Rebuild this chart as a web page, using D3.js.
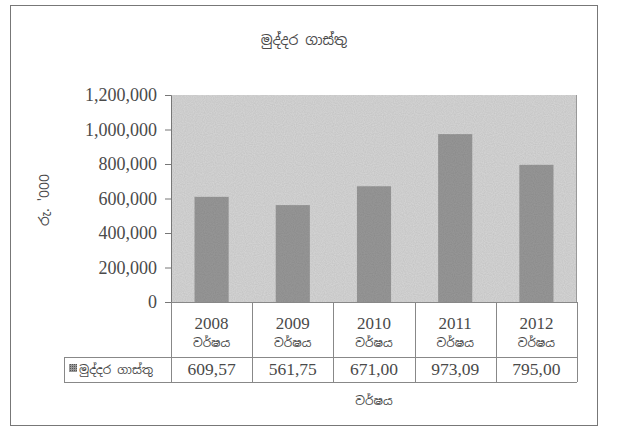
<!DOCTYPE html>
<html><head><meta charset="utf-8">
<script src="https://cdn.jsdelivr.net/npm/d3@7"></script>
<style>body{margin:0;background:#fff}svg{display:block}</style>
</head><body>
<svg id="c" width="634" height="427"></svg>
<script>
const title = "මුද්දර ගාස්තු";
const yTitle = "රු. '000";
const xTitle = "වර්ෂය";
const seriesName = "මුද්දර ගාස්තු";
const years = ["2008", "2009", "2010", "2011", "2012"];
const yearSuffix = "වර්ෂය";
const values = [609570, 561750, 671000, 973090, 795000];
const valueLabels = ["609,57", "561,75", "671,00", "973,09", "795,00"];
const yTicks = [0, 200000, 400000, 600000, 800000, 1000000, 1200000];

const svg = d3.select("#c");
const serif = "'Liberation Serif','DejaVu Serif',serif";
const sinh = "'Noto Sans Sinhala','Iskoola Pota','Noto Sans','DejaVu Sans',sans-serif";
const txt = "#4a4a4a";

// outer frame
svg.append("rect").attr("x",10.5).attr("y",5.5).attr("width",587).attr("height",420)
  .attr("fill","#fff").attr("stroke","#777").attr("stroke-width",1);

const L = 171, R = 577, T = 95, B = 302;
const x = d3.scaleBand().domain(years).range([L,R]).paddingInner(0.58).paddingOuter(0.29);
const xc = d3.scaleBand().domain(years).range([L,R]).padding(0);
const y = d3.scaleLinear().domain([0,1200000]).range([B,T]);

// texture filter
const defs = svg.append("defs");
const f = defs.append("filter").attr("id","noise").attr("x",0).attr("y",0).attr("width",1).attr("height",1);
f.append("feTurbulence").attr("type","fractalNoise").attr("baseFrequency",0.9).attr("numOctaves",1).attr("seed",3).attr("result","n");
f.append("feColorMatrix").attr("in","n").attr("type","matrix")
  .attr("values","0 0 0 0 0  0 0 0 0 0  0 0 0 0 0  0 0 0 0.22 0").attr("result","a");
f.append("feComposite").attr("in","a").attr("in2","SourceGraphic").attr("operator","in").attr("result","b");
f.append("feMerge").call(m=>{m.append("feMergeNode").attr("in","SourceGraphic");m.append("feMergeNode").attr("in","b");});

const pat = defs.append("pattern").attr("id","grid").attr("width",2).attr("height",2).attr("patternUnits","userSpaceOnUse");
pat.append("rect").attr("width",2).attr("height",2).attr("fill","#999");
pat.append("rect").attr("width",1).attr("height",1).attr("fill","#555");

// plot background
svg.append("rect").attr("x",L).attr("y",T).attr("width",R-L).attr("height",B-T)
  .attr("fill","#d8d8d8").attr("filter","url(#noise)");
svg.append("line").attr("x1",R-0.5).attr("x2",R-0.5).attr("y1",T).attr("y2",B).attr("stroke","#999");

// bars
svg.append("g").selectAll("rect").data(values).join("rect")
  .attr("x",(d,i)=>x(years[i])).attr("width",x.bandwidth())
  .attr("y",d=>y(d)).attr("height",d=>B-y(d))
  .attr("fill","#9a9a9a").attr("filter","url(#noise)");

// y axis
const ya = svg.append("g").attr("transform",`translate(${L},0)`)
  .call(d3.axisLeft(y).tickValues(yTicks).tickFormat(d3.format(",")).tickSize(6).tickPadding(8));
ya.select(".domain").attr("stroke","#777");
ya.selectAll(".tick line").attr("stroke","#777");
ya.selectAll("text").attr("font-family",serif).attr("font-size",18).attr("fill",txt);

// table
const tg = svg.append("g").attr("stroke","#888").attr("fill","none");
const rowMid = 357, rowBot = 382, legL = 64;
tg.append("line").attr("x1",L).attr("x2",R).attr("y1",B+0.5).attr("y2",B+0.5);
tg.append("line").attr("x1",legL).attr("x2",R).attr("y1",rowMid+0.5).attr("y2",rowMid+0.5);
tg.append("line").attr("x1",legL).attr("x2",R).attr("y1",rowBot+0.5).attr("y2",rowBot+0.5);
tg.append("line").attr("x1",legL+0.5).attr("x2",legL+0.5).attr("y1",rowMid).attr("y2",rowBot);
tg.selectAll("line.v").data(years.concat(["end"])).join("line").attr("class","v")
  .attr("x1",(d,i)=>Math.round(i<years.length?xc(d):R)+0.5)
  .attr("x2",(d,i)=>Math.round(i<years.length?xc(d):R)+0.5)
  .attr("y1",B).attr("y2",rowBot);

const cg = svg.append("g").attr("text-anchor","middle").attr("fill",txt);
cg.selectAll("text.yr").data(years).join("text").attr("class","yr")
  .attr("x",d=>xc(d)+xc.bandwidth()/2).attr("y",329)
  .attr("font-family",serif).attr("font-size",17).text(d=>d);
cg.selectAll("text.sf").data(years).join("text").attr("class","sf")
  .attr("x",d=>xc(d)+xc.bandwidth()/2).attr("y",347)
  .attr("font-family",sinh).attr("font-size",12).text(yearSuffix);
cg.selectAll("text.v").data(valueLabels).join("text").attr("class","v")
  .attr("x",(d,i)=>xc(years[i])+xc.bandwidth()/2).attr("y",375)
  .attr("font-family",serif).attr("font-size",17.5).text(d=>d);

// legend key
svg.append("rect").attr("x",69).attr("y",364).attr("width",8).attr("height",8).attr("fill","url(#grid)");
svg.append("text").attr("x",79).attr("y",374).attr("font-family",sinh).attr("font-size",12)
  .attr("fill",txt).text(seriesName);

// titles
svg.append("text").attr("x",304).attr("y",45).attr("text-anchor","middle")
  .attr("font-family",sinh).attr("font-size",14).attr("fill",txt).text(title);
svg.append("text").attr("transform","translate(49,200) rotate(-90)").attr("text-anchor","middle")
  .attr("font-family",sinh).attr("font-size",14).attr("fill",txt).text(yTitle);
svg.append("text").attr("x",(L+R)/2).attr("y",405).attr("text-anchor","middle")
  .attr("font-family",sinh).attr("font-size",12).attr("fill",txt).text(xTitle);
</script>
</body></html>
